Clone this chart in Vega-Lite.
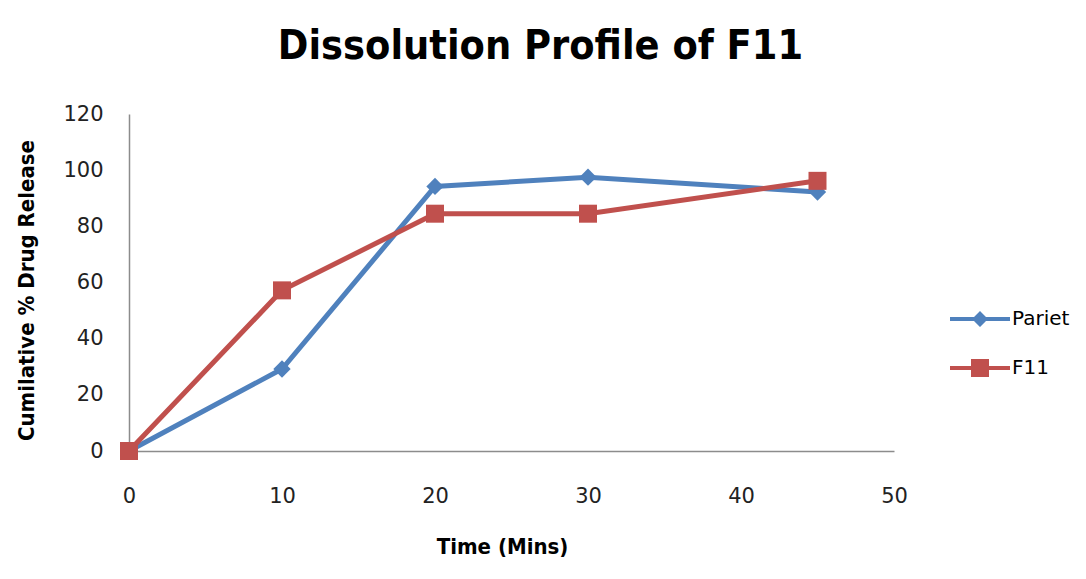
{
  "$schema": "https://vega.github.io/schema/vega-lite/v6.json",
  "width": 765,
  "height": 337,
  "autosize": {"type": "none"},
  "padding": {"left": 129, "top": 114, "right": 192, "bottom": 128},
  "background": "white",
  "title": {
    "text": "Dissolution Profile of F11",
    "fontSize": 41,
    "font": "DejaVu Sans Condensed",
    "fontWeight": "bold",
    "color": "black",
    "anchor": "middle",
    "frame": "group",
    "dx": 29,
    "offset": 3,
    "baseline": "alphabetic"
  },
  "config": {
    "view": {"stroke": null},
    "axis": {
      "grid": false,
      "ticks": false,
      "domainColor": "#8c8c8c",
      "domainWidth": 1.5,
      "labelFont": "DejaVu Sans",
      "labelFontSize": 21,
      "labelColor": "#222222",
      "titleFont": "DejaVu Sans Condensed",
      "titleFontWeight": "bold",
      "titleFontSize": 22,
      "titleColor": "black"
    },
    "legend": {
      "title": null,
      "orient": "none",
      "padding": 0,
      "symbolSize": 3600,
      "symbolStrokeWidth": 0,
      "symbolOpacity": 1,
      "labelFont": "DejaVu Sans",
      "labelFontSize": 20,
      "labelColor": "black",
      "labelOffset": 2
    }
  },
  "data": {
    "values": [
      {"t": 0, "v": 0, "s": "Pariet"},
      {"t": 10, "v": 29.2, "s": "Pariet"},
      {"t": 20, "v": 94.2, "s": "Pariet"},
      {"t": 30, "v": 97.5, "s": "Pariet"},
      {"t": 45, "v": 92.2, "s": "Pariet"},
      {"t": 0, "v": 0, "s": "F11"},
      {"t": 10, "v": 57.2, "s": "F11"},
      {"t": 20, "v": 84.5, "s": "F11"},
      {"t": 30, "v": 84.5, "s": "F11"},
      {"t": 45, "v": 96.2, "s": "F11"}
    ]
  },
  "encoding": {
    "x": {
      "field": "t",
      "type": "quantitative",
      "scale": {"domain": [0, 50], "nice": false},
      "axis": {"values": [0, 10, 20, 30, 40, 50], "title": "Time (Mins)", "labelPadding": 34, "titlePadding": 30, "titleX": 373, "labelFlush": false}
    },
    "y": {
      "field": "v",
      "type": "quantitative",
      "scale": {"domain": [0, 120], "nice": false},
      "axis": {"values": [0, 20, 40, 60, 80, 100, 120], "title": "Cumilative % Drug Release", "labelPadding": 26, "titlePadding": 24, "titleY": 176, "labelFlush": false}
    }
  },
  "layer": [
    {
      "mark": {"type": "line", "strokeWidth": 5},
      "encoding": {
        "color": {
          "field": "s",
          "type": "nominal",
          "scale": {"domain": ["Pariet", "F11"], "range": ["#4F81BD", "#C0504D"]},
          "legend": null
        }
      }
    },
    {
      "mark": {"type": "point", "filled": true, "opacity": 1},
      "encoding": {
        "color": {"field": "s", "type": "nominal", "legend": null},
        "shape": {
          "field": "s",
          "type": "nominal",
          "scale": {"domain": ["Pariet", "F11"], "range": ["diamond", "square"]},
          "legend": null
        },
        "size": {
          "field": "s",
          "type": "nominal",
          "scale": {"domain": ["Pariet", "F11"], "range": [300, 324]},
          "legend": null
        }
      }
    },
    {
      "transform": [{"filter": "datum.t < 0"}],
      "mark": {"type": "point", "filled": true, "opacity": 1, "color": "#4F81BD"},
      "encoding": {
        "shape": {
          "field": "s",
          "type": "nominal",
          "scale": {
            "domain": ["Pariet"],
            "range": ["M-1,-0.067L-0.2,-0.067L0,-0.267L0.2,-0.067L1,-0.067L1,0.067L0.2,0.067L0,0.267L-0.2,0.067L-1,0.067Z"]
          },
          "legend": {"legendX": 821, "legendY": 175}
        }
      }
    },
    {
      "transform": [{"filter": "datum.t < 0"}],
      "mark": {"type": "point", "filled": true, "opacity": 1, "color": "#C0504D"},
      "encoding": {
        "shape": {
          "field": "s",
          "type": "nominal",
          "scale": {
            "domain": ["F11"],
            "range": ["M-1,-0.067L-0.3,-0.067L-0.3,-0.3L0.3,-0.3L0.3,-0.067L1,-0.067L1,0.067L0.3,0.067L0.3,0.3L-0.3,0.3L-0.3,0.067L-1,0.067Z"]
          },
          "legend": {"legendX": 821, "legendY": 224}
        }
      }
    }
  ],
  "resolve": {
    "scale": {"shape": "independent", "size": "independent"},
    "legend": {"shape": "independent"}
  }
}
